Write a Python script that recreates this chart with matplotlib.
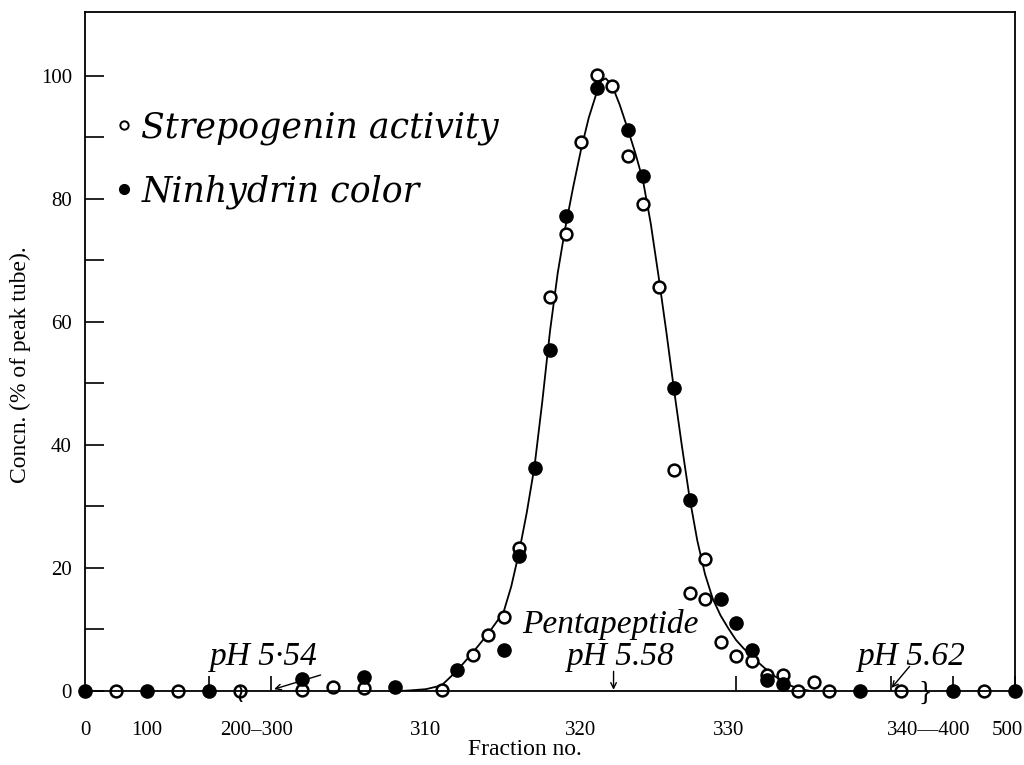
import numpy as np
import matplotlib
matplotlib.use("Agg")
import matplotlib.pyplot as plt
from matplotlib.lines import Line2D

plt.rcParams['font.family'] = ['Liberation Serif', 'DejaVu Serif', 'DejaVu Sans']

# strepogenin activity (open circles)
open_frac = [50, 150, 250, 302, 304, 306, 311, 313, 314, 315, 316, 318, 319, 320,
             321, 322, 323, 324, 325, 326, 327, 328, 328, 329, 330, 331, 332, 333,
             334, 335, 336, 350, 450]
open_val = [0, 0, 0, 0.2, 0.6, 0.5, 0.2, 5.9, 9.1, 12.1, 23.3, 64.1, 74.3, 89.2,
            100.2, 98.3, 87.0, 79.2, 65.7, 35.9, 15.9, 21.5, 15.0, 8.0, 5.7, 4.8, 2.6, 2.6,
            0, 1.5, 0, 0, 0]

# ninhydrin color (filled circles)
filled_frac = [0, 100, 200, 302, 306, 308, 312, 315, 316, 317, 318, 319, 321, 323,
               324, 326, 327, 329, 330, 331, 332, 333, 338, 400, 500]
filled_val = [0, 0, 0, 2.0, 2.3, 0.7, 3.4, 6.7, 22.0, 36.3, 55.5, 77.3, 98.0, 91.2,
              83.8, 49.2, 31.1, 15.0, 11.0, 6.6, 1.8, 1.1, 0, 0, 0]

# drawn elution curve
curve_frac = [308.3, 309, 310, 311, 312, 313, 314, 315, 315.5, 316, 316.5, 317, 317.5,
              318, 318.5, 319, 319.5, 320, 320.5, 321, 321.3, 321.6, 322, 322.5, 323, 323.5,
              324, 324.5, 325, 325.5, 326, 326.5, 327, 327.5, 328, 328.5, 329, 329.5,
              330, 330.5, 331, 331.5, 332, 332.5, 333, 333.5, 334, 334.8]
curve_val = [0, 0.1, 0.3, 0.9, 3.3, 6.2, 9.3, 12.8, 17.0, 22.5, 29.0, 36.5, 47.0,
             58.5, 68.0, 75.5, 82.0, 88.0, 93.2, 97.2, 99.2, 99.6, 98.5, 95.3, 91.5, 87.5,
             83.0, 76.0, 67.5, 58.5, 49.0, 40.0, 31.5, 24.5, 19.0, 15.0, 12.3, 10.2,
             8.3, 6.9, 5.7, 4.5, 3.4, 2.4, 1.6, 0.9, 0.4, 0]

# broken fraction axis
knot_frac = [0, 200, 300, 340, 400, 500]
knot_pos = [0, 8, 12, 52, 56, 60]

tick_marks = [0, 100, 200, 300, 310, 320, 330, 340, 400, 500]
label_pos = [0, 100, 276, 310, 320, 329.5, 376, 488]
label_text = ['0', '100', '200–300', '310', '320', '330', '340—400', '500']


def fwd(x):
    return np.interp(x, knot_frac, knot_pos)


def inv(u):
    return np.interp(u, knot_pos, knot_frac)


fig = plt.figure(figsize=(10.24, 7.65), dpi=100)
ax = fig.add_axes([85 / 1024, 1 - 691 / 765, 930 / 1024, 679 / 765])
ax.set_xscale('function', functions=(fwd, inv))
ax.set_xlim(0, 500)
ax.set_ylim(0, 110.4)

ax.plot(curve_frac, curve_val, color='black', lw=1.3, zorder=2)
ax.plot(open_frac, open_val, 'o', ms=8.5, mfc='white', mec='black', mew=1.8,
        clip_on=False, zorder=2)
ax.plot(filled_frac, filled_val, 'o', ms=9.5, mfc='black', mec='black',
        clip_on=False, zorder=2)

for s in ['top', 'right', 'bottom', 'left']:
    ax.spines[s].set_linewidth(1.3)
    ax.spines[s].set_zorder(2.5)

ax.set_yticks(np.arange(0, 101, 10))
ax.set_yticklabels(['0', '', '20', '', '40', '', '60', '', '80', '', '100'])
ax.tick_params(axis='y', direction='in', length=14, width=1.2, labelsize=15, pad=9.5)

ax.set_xticks(tick_marks, minor=True)
ax.set_xticks(label_pos)
ax.set_xticklabels(label_text)
ax.tick_params(axis='x', which='major', length=0, labelsize=15, pad=21.5)
ax.tick_params(axis='x', which='minor', direction='in', length=11, width=1.2)

ax.set_xlabel('Fraction no.', fontsize=17)
ax.xaxis.set_label_coords(0.473, -0.07)
ax.set_ylabel('Concn. (% of peak tube).', fontsize=17)
ax.yaxis.set_label_coords(-0.058, 0.48)

ax.text(201.6, 4.2, 'pH 5·54', fontsize=24, style='italic', va='baseline')
ax.text(316.2, 9.4, 'Pentapeptide', fontsize=24, style='italic', va='baseline')
ax.text(319.1, 4.2, 'pH 5.58', fontsize=24, style='italic', va='baseline')
ax.text(337.9, 4.2, 'pH 5.62', fontsize=24, style='italic', va='baseline')

arrow = dict(arrowstyle='->', lw=1.0, color='black', shrinkA=0, shrinkB=0)
ax.annotate('', xy=(300.2, 0.3), xytext=(303.2, 2.6), arrowprops=arrow)
ax.annotate('', xy=(322.1, 0.2), xytext=(322.1, 3.2), arrowprops=arrow)
ax.annotate('', xy=(340.5, 0.5), xytext=(358, 4.0), arrowprops=arrow)

ax.text(250, -0.6, '≀', fontsize=18, ha='center', va='center', clip_on=False,
        family=['DejaVu Sans'])
ax.text(373, -0.4, '}', fontsize=20, ha='center', va='center', clip_on=False)

handles = [
    Line2D([], [], marker='o', ls='none', ms=6, mfc='white', mec='black', mew=1.4),
    Line2D([], [], marker='o', ls='none', ms=7, mfc='black', mec='black'),
]
ax.legend(handles, ['Strepogenin activity', 'Ninhydrin color'],
          loc='upper left', bbox_to_anchor=(0.012, 0.881), frameon=False,
          prop=dict(family='DejaVu Serif', style='italic', size=25),
          handlelength=0.6, handletextpad=0.2, borderpad=0, labelspacing=0.85)

fig.savefig('out.png', dpi=100)
